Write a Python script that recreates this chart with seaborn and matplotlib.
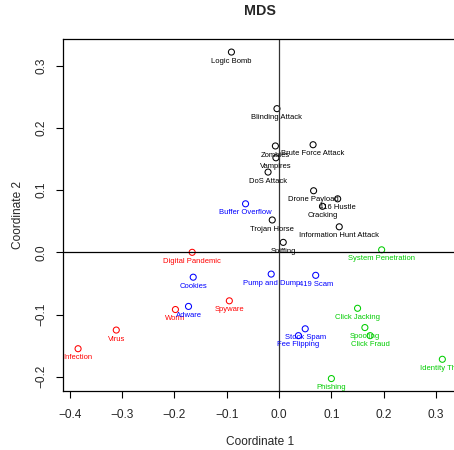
import numpy as np
import pandas as pd
import matplotlib
matplotlib.use("Agg")
import matplotlib.pyplot as plt
import seaborn as sns

# MDS coordinates
names = ["Logic Bomb", "Blinding Attack", "Zombies", "Brute Force Attack", "Vampires",
         "DoS Attack", "Drone Payload", "416 Hustle", "Cracking", "Trojan Horse",
         "Information Hunt Attack", "Sniffing",
         "Digital Pandemic", "Spyware", "Worm", "Virus", "Infection",
         "Buffer Overflow", "Cookies", "Pump and Dump", "419 Scam", "Adware",
         "Stock Spam", "Fee Flipping",
         "System Penetration", "Click Jacking", "Spoofing", "Click Fraud",
         "Identity Theft", "Phishing"]
coord1 = [-0.091, -0.004, -0.007, 0.065, -0.006,
          -0.021, 0.066, 0.112, 0.083, -0.013,
          0.115, 0.008,
          -0.166, -0.095, -0.198, -0.311, -0.384,
          -0.064, -0.164, -0.015, 0.070, -0.173,
          0.050, 0.037,
          0.196, 0.150, 0.164, 0.174,
          0.312, 0.100]
coord2 = [0.322, 0.231, 0.171, 0.173, 0.152,
          0.129, 0.099, 0.086, 0.074, 0.052,
          0.041, 0.016,
          0.000, -0.078, -0.092, -0.125, -0.155,
          0.078, -0.040, -0.035, -0.037, -0.087,
          -0.123, -0.134,
          0.004, -0.090, -0.121, -0.134,
          -0.172, -0.203]
group = (["attack"] * 12 + ["malware"] * 5 + ["scam"] * 7 + ["fraud"] * 6)

colors = {"attack": "black", "malware": "#FF0000", "scam": "#0000FF", "fraud": "#00CD00"}

df = pd.DataFrame({"name": names, "c1": coord1, "c2": coord2, "group": group})

sns.set_style("white")
plt.rcParams["font.family"] = ["Liberation Sans", "DejaVu Sans"]

fig = plt.figure(figsize=(4.54, 4.5), dpi=100)
ax = fig.add_axes([63 / 454, 59 / 450, 394 / 454, 352 / 450])

sns.scatterplot(data=df, x="c1", y="c2", hue="group", palette=colors,
                s=19, linewidth=0.75, legend=False, ax=ax)
pts = ax.collections[0]
pts.set_edgecolors(pts.get_facecolors())
pts.set_facecolors("none")

for i, row in df.iterrows():
    ax.annotate(row["name"], (row["c1"], row["c2"]), xytext=(0, -6.6),
                textcoords="offset points", ha="center", va="center",
                fontsize=5.5, color=colors[row["group"]])

ax.axhline(0, color="black", lw=0.9)
ax.axvline(0, color="#333333", lw=0.9)

ax.set_xlim(-0.4128, 0.340)
ax.set_ylim(-0.223, 0.343)
ax.set_xticks([-0.4, -0.3, -0.2, -0.1, 0.0, 0.1, 0.2, 0.3])
ax.set_yticks([-0.2, -0.1, 0.0, 0.1, 0.2, 0.3])
ax.set_xticklabels(["−0.4", "−0.3", "−0.2", "−0.1", "0.0", "0.1", "0.2", "0.3"])
ax.set_yticklabels(["−0.2", "−0.1", "0.0", "0.1", "0.2", "0.3"], rotation=90, va="center")
ax.tick_params(axis="both", direction="out", length=5, width=0.8, color="black",
               labelsize=8.6, bottom=True, left=True)
ax.tick_params(axis="x", pad=8)
ax.tick_params(axis="y", pad=6)
for sp in ax.spines.values():
    sp.set_color("black")
    sp.set_linewidth(0.9)

ax.set_xlabel("Coordinate 1", fontsize=8.6, labelpad=10.6)
ax.set_ylabel("Coordinate 2", fontsize=8.6, labelpad=8.4)
fig.text(260 / 454, 1 - 11 / 450, "MDS", ha="center", va="center",
         fontsize=10.3, fontweight="bold")

fig.savefig("out.png", dpi=100)
